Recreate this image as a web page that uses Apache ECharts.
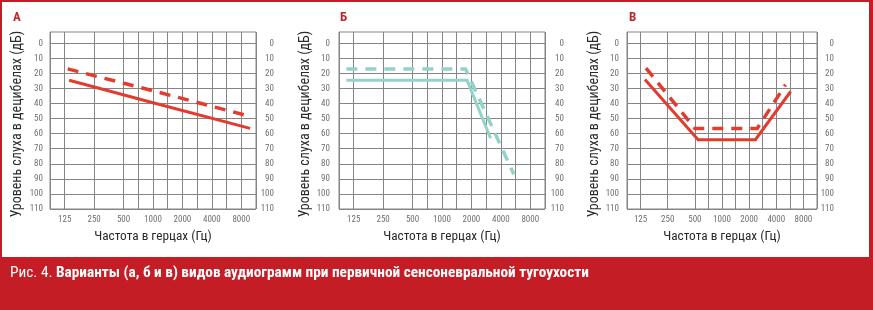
<!DOCTYPE html>
<html><head><meta charset="utf-8">
<script src="https://cdn.jsdelivr.net/npm/echarts@6/dist/echarts.min.js"></script>
<style>html,body{margin:0;padding:0;background:#fff}#c{width:873px;height:310px}</style>
</head><body><div id="c"></div>
<script>
// Frequency tick labels (x position = octaves above 125 Hz)
const freqLabels = ['125', '250', '500', '1000', '2000', '4000', '8000'];
// Panel A (red)
const aSolidX = [0.15, 3, 6.3];
const aSolidY = [24.5, 39.5, 56.5];
const aDashX = [0.1, 3, 6.1];
const aDashY = [17, 31.5, 47.5];
// Panel Б (teal)
const bSolidX = [-0.25, 3.85, 4.65];
const bSolidY = [24.5, 24.5, 63];
const bDashX = [-0.25, 3.8, 5.44];
const bDashY = [17, 17, 87];
// Panel В (red)
const cSolidX = [0.16, 2.12, 4.23, 5.53];
const cSolidY = [24, 64, 64, 32];
const cDashX = [0.2, 2.0, 4.3, 5.34];
const cDashY = [16.5, 56.5, 56.5, 27.5];

const panelLetters = ['А', 'Б', 'В'];
const yTitle = 'Уровень слуха в децибелах (дБ)';
const xTitle = 'Частота в герцах (Гц)';
const captionA = 'Рис. 4. ';
const captionB = 'Варианты (а, б и в) видов аудиограмм при первичной сенсоневральной тугоухости';

const RED = '#e23c2f', TEAL = '#93d2c9', GRID = '#858585';
const FONT = "'Roboto Condensed', 'DejaVu Sans Condensed', sans-serif";
const zip = (xs, ys) => xs.map((x, i) => [x, ys[i]]);

const panels = [
  {left: 50, width: 206, color: RED, solid: zip(aSolidX, aSolidY), dash: zip(aDashX, aDashY), lm: 7, rm: 18},
  {left: 339, width: 206, color: TEAL, solid: zip(bSolidX, bSolidY), dash: zip(bDashX, bDashY), lm: 9, rm: 19},
  {left: 627, width: 190, color: RED, solid: zip(cSolidX, cSolidY), dash: zip(cDashX, cDashY), lm: 8, rm: 17}
];

const T = 'rgba(0,0,0,0)';
// x ticks every half octave from -0.5 to 6.5; no lines at 0.5 and 1.5
const xLineColors = [GRID, GRID, T, GRID, T, GRID, GRID, GRID, GRID, GRID, GRID, GRID, GRID, GRID, GRID];
const yLineColors = [T, T, T, GRID];
const labelStyle = {fontFamily: FONT, fontSize: 9, color: '#707070'};

const grid = [], xAxis = [], yAxis = [], series = [];
panels.forEach((p, i) => {
  grid.push({left: p.left, top: 32, width: p.width, height: 177, show: true, borderColor: GRID, borderWidth: 1, backgroundColor: '#fff'});
  xAxis.push({
    type: 'value', gridIndex: i, min: -0.5, max: 6.5, interval: 0.5,
    axisLine: {show: false}, axisTick: {show: false},
    splitLine: {show: true, lineStyle: {color: xLineColors, width: 1}},
    axisLabel: Object.assign({margin: 6, interval: 0,
      formatter: v => (Number.isInteger(v) && v >= 0 && v <= 6) ? freqLabels[v] : ''}, labelStyle),
    name: xTitle, nameLocation: 'middle', nameGap: 21,
    nameTextStyle: {fontFamily: FONT, fontSize: 13.3, color: '#2a2a2a'}
  });
  const yl = v => (Math.abs(v % 10) < 1e-6 && v >= 0) ? String(Math.round(v)) : '';
  yAxis.push({
    type: 'value', gridIndex: i, inverse: true, min: -7.5, max: 110, interval: 2.5,
    axisLine: {show: false}, axisTick: {show: false},
    splitLine: {show: true, lineStyle: {color: yLineColors, width: 1}},
    axisLabel: Object.assign({margin: p.lm, interval: 0, formatter: yl}, labelStyle),
    name: yTitle, nameLocation: 'middle', nameGap: 26, nameRotate: 90,
    nameTextStyle: {fontFamily: FONT, fontSize: 14, color: '#2a2a2a', padding: [0, 7, 0, 0]}
  });
  yAxis.push({
    type: 'value', gridIndex: i, inverse: true, min: -7.5, max: 110, interval: 2.5, position: 'right',
    axisLine: {show: false}, axisTick: {show: false}, splitLine: {show: false},
    axisLabel: Object.assign({margin: p.rm, interval: 0, align: 'right', formatter: yl}, labelStyle)
  });
  series.push({type: 'line', xAxisIndex: i, yAxisIndex: 2 * i, data: p.solid, symbol: 'none', silent: true,
    lineStyle: {color: p.color, width: 3, cap: 'butt', join: 'miter'}, z: 5});
  series.push({type: 'line', xAxisIndex: i, yAxisIndex: 2 * i, data: p.dash, symbol: 'none', silent: true,
    lineStyle: {color: p.color, width: 3.5, type: [11, 8], cap: 'butt', join: 'miter'}, z: 5});
});

const letterX = [13, 340, 629];
const graphic = [
  {type: 'rect', shape: {x: 0, y: 0, width: 873, height: 310}, style: {fill: '#c51d25'}, z: -10, silent: true},
  {type: 'rect', shape: {x: 2, y: 2, width: 867, height: 255}, style: {fill: '#ffffff'}, z: -9, silent: true},
  {type: 'text', x: 10, y: 273, style: {
    text: '{n|' + captionA + '}{b|' + captionB + '}', verticalAlign: 'middle',
    rich: {n: {fontFamily: FONT, fontSize: 15.3, fill: '#fff'},
           b: {fontFamily: FONT, fontSize: 15.3, fontWeight: 'bold', fill: '#fff'}}}, z: 10}
];
panelLetters.forEach((t, i) => graphic.push({type: 'text', x: letterX[i], y: 18, style: {
  text: t, fontFamily: FONT, fontSize: 13, fontWeight: 'bold', fill: '#c0272d', verticalAlign: 'middle'}, z: 10}));

const chart = echarts.init(document.getElementById('c'), null, {renderer: 'canvas'});
chart.setOption({animation: false, backgroundColor: '#fff', grid, xAxis, yAxis, series, graphic});
</script></body></html>
